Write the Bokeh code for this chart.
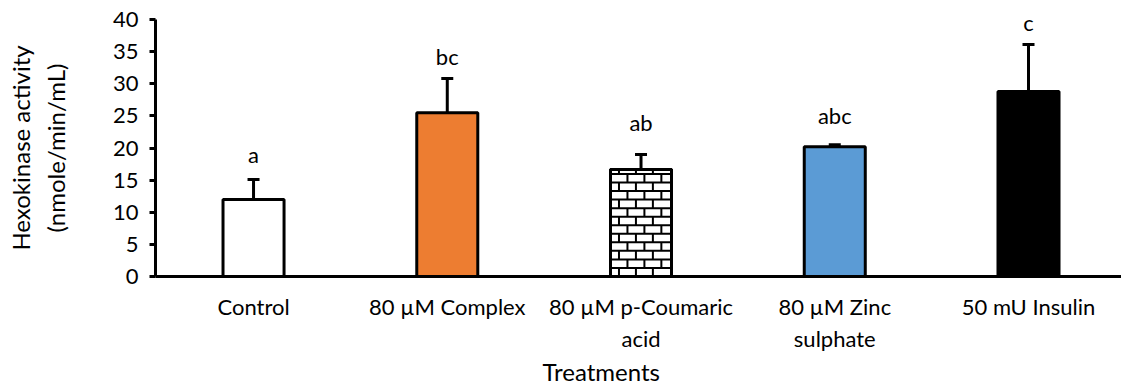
from bokeh.plotting import figure
from bokeh.models import ColumnDataSource, Whisker, TeeHead, FixedTicker, Range1d, Title
from bokeh.core.properties import value
from bokeh.embed import file_html
from bokeh.resources import INLINE

# ---- data ----
categories = ["Control", "80 µM Complex", "80 µM p-Coumaric\nacid", "80 µM Zinc\nsulphate", "50 mU Insulin"]
means = [12.0, 25.5, 16.65, 20.2, 28.8]
errors = [3.1, 5.3, 2.35, 0.3, 7.3]
letters = ["a", "bc", "ab", "abc", "c"]
letter_y = [16.9, 32.1, 21.9, 23.0, 37.5]
colors = ["white", "#ED7D31", "white", "#5B9BD5", "black"]
y_ticks = [0, 5, 10, 15, 20, 25, 30, 35, 40]
x_title = "Treatments"
y_title = "Hexokinase activity\n(nmole/min/mL)"

FONT = "Lato"
xs = list(range(len(categories)))
BAR_W = 0.315

p = figure(width=1121, height=385, output_backend="svg", toolbar_location=None,
           x_range=Range1d(-0.506, 4.480), y_range=Range1d(0, 40),
           min_border_left=155, min_border_right=0, min_border_top=19, min_border_bottom=109)
p.outline_line_color = None
p.xgrid.grid_line_color = None
p.ygrid.grid_line_color = None
p.background_fill_color = "white"
p.border_fill_color = "white"

src = ColumnDataSource(dict(x=xs, top=means, color=colors,
                            upper=[m + e for m, e in zip(means, errors)]))
p.vbar(x="x", top="top", bottom=0, width=BAR_W, fill_color="color",
       line_color="black", line_width=3, source=src)

# brick pattern for the p-Coumaric bar
bi = 2
left = xs[bi] - BAR_W / 2
right = xs[bi] + BAR_W / 2
row_h = 1.33
brick_w = BAR_W / 3.6
hx0, hx1, hy = [], [], []
vx, vy0, vy1 = [], [], []
k = 0
y0 = 0.0
while y0 < means[bi] - 0.2:
    y1 = min(y0 + row_h, means[bi])
    if y1 < means[bi]:
        hx0.append(left); hx1.append(right); hy.append(y1)
    off = 0 if k % 2 == 0 else brick_w / 2
    xj = left + off + brick_w / 2
    while xj < right - 0.01:
        vx.append(xj); vy0.append(y0); vy1.append(y1)
        xj += brick_w
    y0 = y1
    k += 1
p.segment(x0=hx0, x1=hx1, y0=hy, y1=hy, line_color="black", line_width=2)
p.segment(x0=vx, x1=vx, y0=vy0, y1=vy1, line_color="black", line_width=2)
p.vbar(x=[xs[bi]], top=[means[bi]], bottom=0, width=BAR_W, fill_color=None,
       line_color="black", line_width=3)

w = Whisker(base="x", lower="top", upper="upper", source=src, dimension="height",
            line_color="black", line_width=3,
            upper_head=TeeHead(size=12, line_width=3, line_color="black"),
            lower_head=None)
p.add_layout(w)

p.text(x=xs, y=letter_y, text=letters, text_align="center", text_baseline="bottom",
       text_font=value(FONT), text_font_size="22px", text_color="black")

# axes
p.xaxis.ticker = FixedTicker(ticks=xs)
p.xaxis.major_label_overrides = {i: c for i, c in zip(xs, categories)}
p.xaxis.major_tick_line_color = None
p.xaxis.minor_tick_line_color = None
p.xaxis.axis_line_width = 3
p.xaxis.axis_line_color = "black"
p.xaxis.major_label_text_font = FONT
p.xaxis.major_label_text_font_size = "22px"
p.xaxis.major_label_text_color = "black"
p.xaxis.major_label_standoff = 10

p.add_layout(Title(text=x_title, align="left", offset=387, standoff=0,
                   text_font=FONT, text_font_size="24px", text_font_style="normal",
                   text_color="black", text_line_height=1.0), "below")

p.yaxis.ticker = FixedTicker(ticks=y_ticks)
p.yaxis.minor_tick_line_color = None
p.yaxis.major_tick_out = 6
p.yaxis.major_tick_in = 0
p.yaxis.major_tick_line_width = 3
p.yaxis.axis_line_width = 3
p.yaxis.axis_line_color = "black"
p.yaxis.major_label_text_font = FONT
p.yaxis.major_label_text_font_size = "22px"
p.yaxis.major_label_text_color = "black"
p.yaxis.major_label_standoff = 11
p.yaxis.axis_label = y_title
p.yaxis.axis_label_text_font = FONT
p.yaxis.axis_label_text_font_size = "24px"
p.yaxis.axis_label_text_font_style = "normal"
p.yaxis.axis_label_text_color = "black"
p.yaxis.axis_label_standoff = 40

open("out.html", "w").write(file_html(p, INLINE))
